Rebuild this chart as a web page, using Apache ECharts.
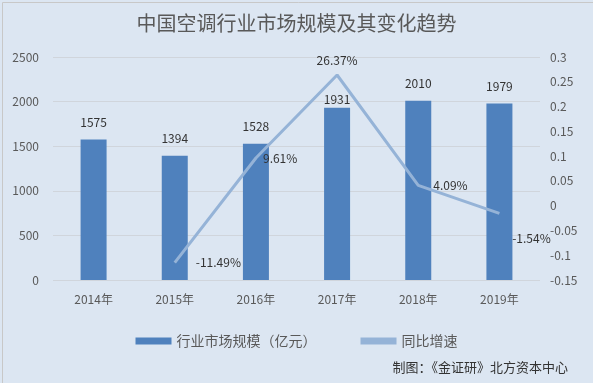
<!DOCTYPE html>
<html><head><meta charset="utf-8">
<script src="https://cdn.jsdelivr.net/npm/echarts@6/dist/echarts.min.js"></script>
<style>html,body{margin:0;padding:0;background:#fff}#c{width:593px;height:383px}</style>
</head><body><div id="c"></div>
<script>
const categories = ['2014年','2015年','2016年','2017年','2018年','2019年'];
const marketSize = [1575, 1394, 1528, 1931, 2010, 1979];
const growth = [null, -0.1149, 0.0961, 0.2637, 0.0409, -0.0154];
const growthLabels = ['', '-11.49%', '9.61%', '26.37%', '4.09%', '-1.54%'];
const leftTicks = [0, 500, 1000, 1500, 2000, 2500];
const rightTicks = [-0.15, -0.1, -0.05, 0, 0.05, 0.1, 0.15, 0.2, 0.25, 0.3];

const labelPos = [null, {position:'right', offset:[16,0]}, {position:'right', offset:[2,0]}, {position:'top', offset:[0,-4]}, {position:'right', offset:[10,0]}, {position:'bottom', offset:[32,14]}];

const chart = echarts.init(document.getElementById('c'));
const fontFam = '"Noto Sans CJK SC", sans-serif';
chart.setOption({
  backgroundColor: '#dce6f2',
  textStyle: {fontFamily: fontFam},
  title: {text: '中国空调行业市场规模及其变化趋势', left: 'center', top: 8,
    textStyle: {fontSize: 20, fontWeight: 'normal', color: '#595959', fontFamily: fontFam}},
  graphic: [
    {type: 'rect', left: 0, top: 0, shape: {width: 592, height: 382}, style: {fill: 'none', stroke: '#c8c8c8', lineWidth: 1}},
    {type: 'text', right: 25, top: 361, style: {text: '制图：《金证研》北方资本中心', fill: '#333', font: '13px "Noto Sans CJK SC"'}}
  ],
  legend: {top: 329, left: 'center', itemGap: 44, itemWidth: 36, itemHeight: 7,
    textStyle: {fontSize: 14, color: '#595959'},
    data: [{name: '行业市场规模（亿元）', icon: 'rect'}, {name: '同比增速', icon: 'rect', itemStyle: {}}]},
  grid: {left: 53, right: 53, top: 57, bottom: 103},
  xAxis: {type: 'category', data: categories,
    axisLine: {show: false}, axisTick: {show: false},
    axisLabel: {color: '#595959', fontSize: 12, margin: 13}},
  yAxis: [
    {type: 'value', min: 0, max: 2500, interval: 500,
      axisLabel: {color: '#595959', fontSize: 12, margin: 14, formatter: v => String(v)},
      splitLine: {lineStyle: {color: '#d0d5dc'}}},
    {type: 'value', min: -0.15, max: 0.3, interval: 0.05,
      axisLabel: {color: '#595959', fontSize: 12, margin: 10, formatter: v => String(Math.round(v*100)/100)},
      splitLine: {show: false}}
  ],
  series: [
    {name: '行业市场规模（亿元）', type: 'bar', barWidth: 26,
      itemStyle: {color: '#4f81bd'},
      label: {show: true, position: 'top', distance: 11, color: '#333', fontSize: 12},
      data: marketSize.map((v, i) => i === 3 ? {value: v, label: {distance: 2}} : v)},
    {name: '同比增速', type: 'line', yAxisIndex: 1, symbol: 'circle', symbolSize: 0.1, showSymbol: true, connectNulls: false, z: 3,
      lineStyle: {color: '#95b3d7', width: 3}, itemStyle: {color: '#95b3d7'},
      label: {show: true, color: '#333', fontSize: 12},
      data: growth.map((v, i) => v === null ? null : {value: v, label: Object.assign({show: true, color: '#333', fontSize: 12, formatter: growthLabels[i]}, labelPos[i])})}
  ]
});
</script></body></html>
